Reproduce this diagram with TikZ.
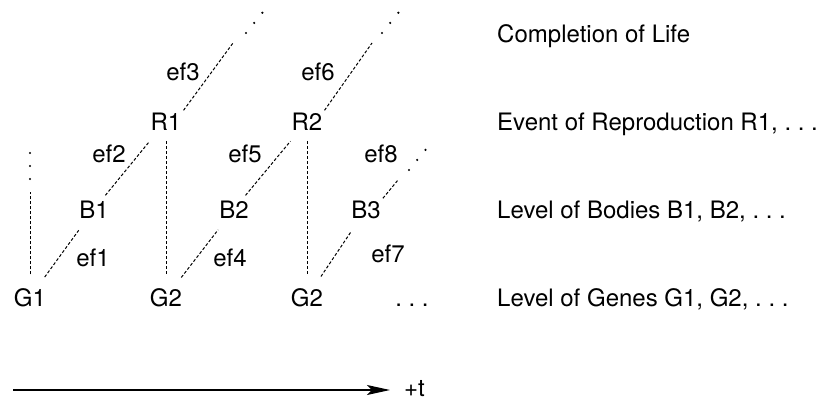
\documentclass[tikz,border=0pt]{standalone}
\usepackage{fontspec}
\setmainfont{TeX Gyre Heros}
\usetikzlibrary{arrows.meta}

\begin{document}
\begin{tikzpicture}[x=1pt, y=-1pt, >={Stealth[length=23pt, width=10pt, inset=5pt]},
        lbl/.style={font=\fontsize{24}{28}\selectfont, anchor=base, inner sep=2pt},
        lvl/.style={lbl, anchor=base west},
        link/.style={densely dashed, line width=1pt},
        gb/.style={link, shorten <=25pt, shorten >=26pt},
        br/.style={link, shorten <=18pt, shorten >=26pt},
        rg/.style={link, shorten <=20pt, shorten >=23pt},
        trail/.style={line width=2.4pt, line cap=round, dash pattern=on 0pt off 13pt}]
        \useasboundingbox (0,0) rectangle (824,402);

        \node (g1) [lbl] at (30,306) {G1};
        \node (g2) [lbl] at (166,306) {G2};
        \node (g3) [lbl] at (307,306) {G2};
        \node (gdots) [lbl] at (412,306) {.\ .\ .};
        \node (b1) [lbl] at (94,218) {B1};
        \node (b2) [lbl] at (234,218) {B2};
        \node (b3) [lbl] at (366,218) {B3};
        \node (r1) [lbl] at (166,130) {R1};
        \node (r2) [lbl] at (307,130) {R2};

        \node (ef1) [lbl] at (93,266) {ef1};
        \node (ef2) [lbl] at (109,162) {ef2};
        \node (ef3) [lbl] at (183,80) {ef3};
        \node (ef4) [lbl] at (230,266) {ef4};
        \node (ef5) [lbl] at (245,162) {ef5};
        \node (ef6) [lbl] at (318,80) {ef6};
        \node (ef7) [lbl] at (388,262) {ef7};
        \node (ef8) [lbl] at (381,162) {ef8};

        \node (life) [lvl] at (495,42) {Completion of Life};
        \node (repro) [lvl] at (495,130) {Event of Reproduction R1, .\ .\ .};
        \node (bodies) [lvl] at (495,218) {Level of Bodies B1, B2, .\ .\ .};
        \node (genes) [lvl] at (495,306) {Level of Genes G1, G2, .\ .\ .};

        \coordinate (g1top) at (30,192);
        \coordinate (d0a) at (30,179);
        \coordinate (d0b) at (30,152);
        \coordinate (r1top) at (233,43);
        \coordinate (d3a) at (246,33);
        \coordinate (d3b) at (263,12);
        \coordinate (r2top) at (372,43);
        \coordinate (d6a) at (382,33);
        \coordinate (d6b) at (399,12);
        \coordinate (b3top) at (398,180);
        \coordinate (d8a) at (409,170);
        \coordinate (d8b) at (427,148);

        \draw[link, shorten <=23pt] (g1.center) -- (g1top);
        \draw[trail] (d0a) -- (d0b);

        \draw[gb] (g1.center) -- (b1.center);
        \draw[gb] (g2.center) -- (b2.center);
        \draw[gb] (g3.center) -- (b3.center);
        \draw[br] (b1.center) -- (r1.center);
        \draw[br] (b2.center) -- (r2.center);
        \draw[rg] (r1.center) -- (g2.center);
        \draw[rg] (r2.center) -- (g3.center);

        \draw[link] (r1.north east) -- (r1top);
        \draw[trail] (d3a) -- (d3b);
        \draw[link] (r2.north east) -- (r2top);
        \draw[trail] (d6a) -- (d6b);
        \draw[link] (b3.north east) -- (b3top);
        \draw[trail] (d8a) -- (d8b);

        \node (tlbl) [lvl] at (402,396) {+t};
        \coordinate (t0) at (13,390);
        \draw[->, line width=1.2pt, shorten >=12pt] (t0) -- (tlbl.west |- t0);
    \end{tikzpicture}
\end{document}
